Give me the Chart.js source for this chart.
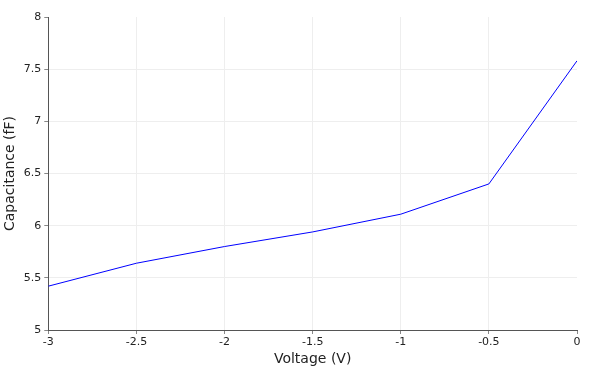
<!DOCTYPE html>
<html>
<head>
<meta charset="utf-8">
<script src="https://cdn.jsdelivr.net/npm/chart.js@4"></script>
<style>
    body { margin: 0; background: #fff; }
    #wrap { width: 580px; height: 372px; overflow: hidden; }
</style>
</head>
<body>
<div id="wrap"><canvas id="chart" width="590" height="372"></canvas></div>
<script>
/* ======================
   DATA
====================== */
const voltages = [-3, -2.5, -2, -1.5, -1, -0.5, 0];
const capacitance = [5.42, 5.64, 5.80, 5.94, 6.11, 6.40, 7.58];
const xTicks = [-3, -2.5, -2, -1.5, -1, -0.5, 0];
const yTicks = [5, 5.5, 6, 6.5, 7, 7.5, 8];

const fontFamily = "'DejaVu Sans', sans-serif";

// no grid line on the last tick (top / right edge)
const gridColor = last => ctx => (ctx.tick && ctx.tick.value === last ? "rgba(0,0,0,0)" : "#eeeeee");

/* ======================
   CHART
====================== */
new Chart(document.getElementById("chart"), {
    type: "line",
    data: {
        datasets: [
            {
                data: voltages.map((v, i) => ({ x: v, y: capacitance[i] })),
                borderColor: "#0000ff",
                borderWidth: 1,
                pointRadius: 0,
                tension: 0,
                fill: false,
            },
        ],
    },
    options: {
        responsive: false,
        animation: false,
        layout: { padding: { top: 17, right: 13, left: 2, bottom: 4 } },
        plugins: { legend: { display: false }, tooltip: { enabled: false } },
        scales: {
            x: {
                type: "linear",
                min: xTicks[0],
                max: xTicks[xTicks.length - 1],
                afterFit: s => { s.paddingRight = 0; },
                afterBuildTicks: s => { s.ticks = xTicks.map(v => ({ value: v })); },
                ticks: {
                    color: "#222",
                    font: { family: fontFamily, size: 11 },
                    padding: 2,
                    maxRotation: 0,
                    callback: v => String(v),
                },
                grid: { color: gridColor(xTicks[xTicks.length - 1]), tickColor: "#888", tickLength: 4 },
                border: { color: "#555", width: 1 },
                title: {
                    display: true,
                    text: "Voltage (V)",
                    color: "#222",
                    font: { family: fontFamily, size: 14 },
                    padding: { top: 0, bottom: 0 },
                },
            },
            y: {
                min: yTicks[0],
                max: yTicks[yTicks.length - 1],
                afterFit: s => { s.paddingTop = 0; },
                afterBuildTicks: s => { s.ticks = yTicks.map(v => ({ value: v })); },
                ticks: {
                    color: "#222",
                    font: { family: fontFamily, size: 11 },
                    padding: 3,
                    callback: v => String(v),
                },
                grid: { color: gridColor(yTicks[yTicks.length - 1]), tickColor: "#888", tickLength: 4 },
                border: { color: "#555", width: 1 },
                title: {
                    display: true,
                    text: "Capacitance (fF)",
                    color: "#222",
                    font: { family: fontFamily, size: 14 },
                    padding: { top: 0, bottom: 2 },
                },
            },
        },
    },
});
</script>
</body>
</html>
